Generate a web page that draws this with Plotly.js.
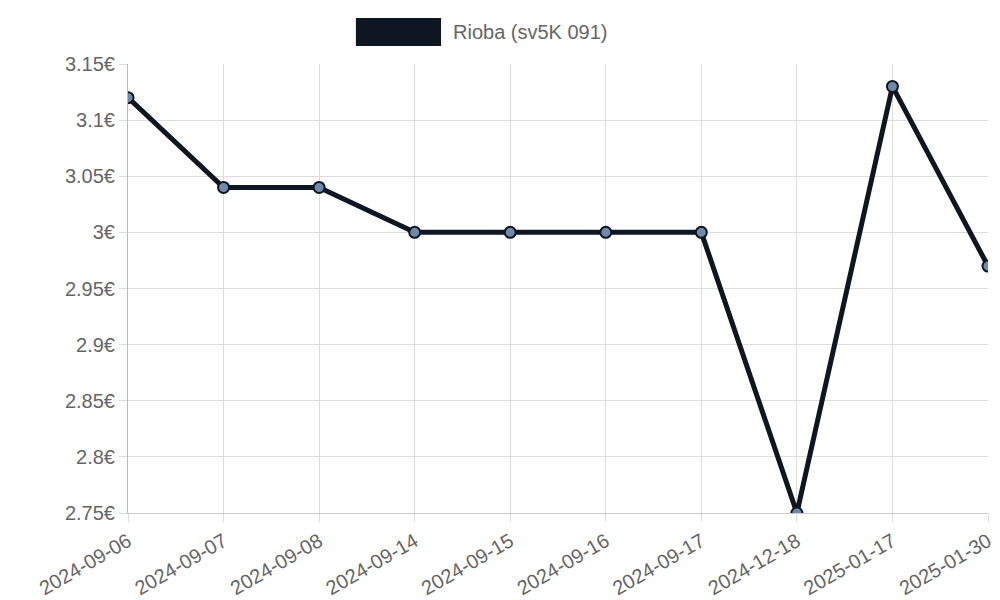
<!DOCTYPE html>
<html>
<head>
<meta charset="utf-8">
<script src="https://cdn.plot.ly/plotly-3.0.1.min.js"></script>
<style>body{margin:0}#chart{width:1000px;height:600px}</style>
</head>
<body>
<div id="chart"></div>
<script>
var dates = ['2024-09-06', '2024-09-07', '2024-09-08', '2024-09-14', '2024-09-15',
    '2024-09-16', '2024-09-17', '2024-12-18', '2025-01-17', '2025-01-30'];
var prices = [3.12, 3.04, 3.04, 3.00, 3.00, 3.00, 3.00, 2.75, 3.13, 2.97];
var seriesName = 'Rioba (sv5K 091)';

var trace = {
    x: dates,
    y: prices,
    type: 'scatter',
    mode: 'lines+markers',
    line: {color: '#0e1622', width: 5},
    marker: {size: 11, color: '#7189aa', line: {color: '#0e1622', width: 2}},
    showlegend: false
};

var tickFont = {family: 'Liberation Sans, Arial, sans-serif', size: 20, color: '#666'};

var layout = {
    width: 1000,
    height: 600,
    margin: {l: 128, r: 12, t: 64, b: 87},
    paper_bgcolor: '#fff',
    plot_bgcolor: '#fff',
    xaxis: {
        type: 'category',
        range: [0, dates.length - 1],
        showgrid: true,
        gridcolor: '#dddddd',
        ticks: 'outside',
        ticklen: 8,
        tickcolor: '#dddddd',
        tickangle: -30,
        tickfont: tickFont,
        showline: true,
        linecolor: '#cccccc',
        zeroline: false
    },
    yaxis: {
        range: [2.75, 3.15],
        dtick: 0.05,
        ticksuffix: '€',
        showgrid: true,
        gridcolor: '#dddddd',
        ticks: 'outside',
        ticklen: 8,
        tickcolor: '#dddddd',
        tickfont: tickFont,
        showline: true,
        linecolor: '#bbbbbb',
        zeroline: false
    },
    shapes: [{
        type: 'rect', xref: 'paper', yref: 'paper',
        x0: 0.265, x1: 0.364, y0: 1.0401, y1: 1.1024,
        fillcolor: '#0e1622', line: {width: 0}
    }],
    annotations: [{
        xref: 'paper', yref: 'paper', x: 0.376, y: 1.0713,
        xanchor: 'left', yanchor: 'middle', showarrow: false,
        text: seriesName,
        font: tickFont
    }]
};

Plotly.newPlot('chart', [trace], layout, {displayModeBar: false});
</script>
</body>
</html>
